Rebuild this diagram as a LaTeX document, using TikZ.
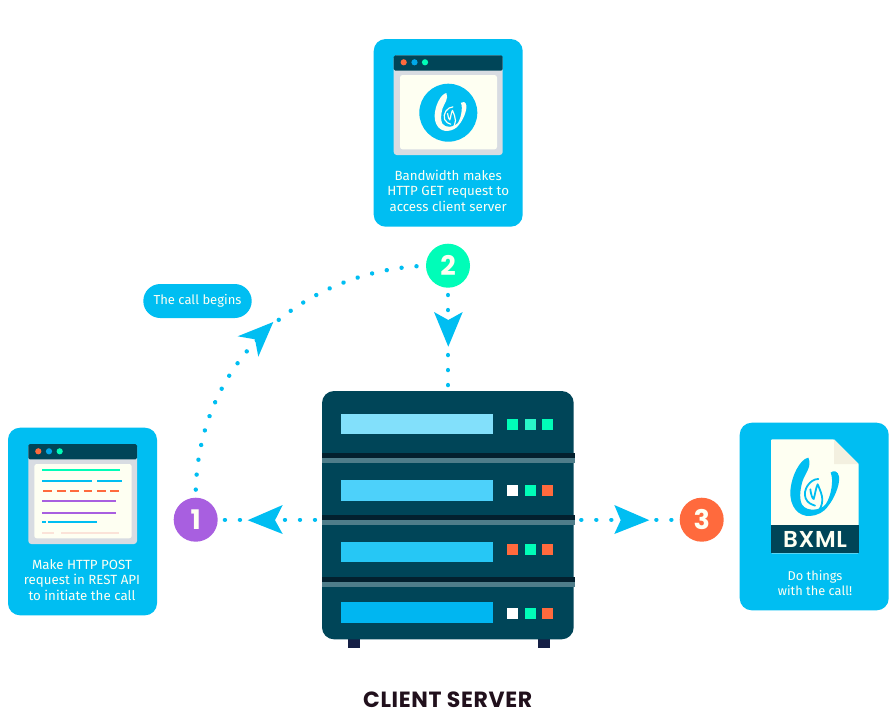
\documentclass[tikz,border=0pt]{standalone}
\usepackage{fontspec}
\setmainfont{Fira Sans}
\newfontfamily\labelfont{Poppins}
\newfontfamily\serverfont[LetterSpace=3]{Poppins}
\newfontfamily\bxfont[LetterSpace=3]{Poppins SemiBold}
\usetikzlibrary{calc}
\definecolor{bwblue}{HTML}{00BEF2}
\definecolor{bwdark}{HTML}{004558}
\definecolor{bwgreen}{HTML}{00FDB8}
\definecolor{bwgreenlt}{HTML}{2AF5C8}
\definecolor{bworange}{HTML}{FF6A3D}
\definecolor{bwpurple}{HTML}{A85FE0}
\definecolor{bwcream}{HTML}{FEFFF2}
\definecolor{bwfold}{HTML}{F3F0E0}
\definecolor{bwgrey}{HTML}{D8DCE2}
\definecolor{bwpink}{HTML}{FBE3D8}
\definecolor{bwnavy}{HTML}{151F45}
\definecolor{stripedark}{HTML}{03202E}
\definecolor{stripelight}{HTML}{4F7D8A}
\definecolor{labelink}{HTML}{21101C}
\definecolor{barA}{HTML}{82E0FB}
\definecolor{barB}{HTML}{4DD1FA}
\definecolor{barC}{HTML}{26C7F5}
\definecolor{barD}{HTML}{00B6F1}
\definecolor{dotblue}{HTML}{00A8E8}
\tikzset{
  box/.style={draw=none,inner sep=0pt,outer sep=0pt,rectangle},
  card/.style={box,fill=bwblue,rounded corners=12pt},
  cardtext/.style={text=bwcream,font=\fontsize{13.3}{15.4}\selectfont,align=center,inner sep=0pt},
  badge/.style={circle,minimum size=44pt,inner sep=0pt,outer sep=0pt,text=bwcream,font=\fontsize{27}{27}\labelfont\bfseries},
  dotline/.style={draw=bwblue,line width=4.4pt,line cap=round,dash pattern=on 0.01pt off 15pt},
  head/.style={fill=bwblue,draw=none},
  tline/.style={line width=2.2pt},
}
\newcommand{\bwlogo}[4]{%
\begin{scope}[shift={(#1,#2)},scale=#3/3]
\begin{scope}[shift={(-150,-157)}]
\fill[#4] (130,68) .. controls (105,72) and (78,125) .. (76,170)
 .. controls (74,215) and (100,245) .. (135,243)
 .. controls (155,242) and (178,232) .. (190,212)
 .. controls (205,195) and (226,150) .. (222,125)
 .. controls (220,108) and (205,105) .. (197,113)
 .. controls (207,135) and (198,185) .. (182,208)
 .. controls (165,228) and (125,230) .. (112,210)
 .. controls (102,195) and (105,165) .. (112,140)
 .. controls (120,115) and (142,95) .. (130,68) -- cycle;
\draw[#4,line width=#3*1.8pt,line cap=round,line join=round]
 (160,132) .. controls (135,132) and (112,165) .. (122,190)
 .. controls (128,205) and (140,208) .. (150,212);
\draw[#4,line width=#3*1.8pt,line cap=round,line join=round]
 (136,163) .. controls (138,180) and (142,190) .. (146,192)
 .. controls (150,180) and (152,160) .. (158,148)
 .. controls (165,165) and (172,180) .. (172,195)
 .. controls (172,210) and (165,222) .. (158,232);
\end{scope}
\end{scope}}
\newcommand{\winframe}[9]{%
\fill[bwgrey,rounded corners=3pt] (#1,#2) rectangle (#3,#4);
\fill[bwdark,rounded corners=1.5pt] (#1,#2) rectangle (#3,#5);
\fill[bwcream,rounded corners=2.5pt] (#6,#7) rectangle (#8,#9);}
\begin{document}
\begin{tikzpicture}[x=1pt,y=-1pt]
\useasboundingbox[fill=white] (0,0) rectangle (893,713);

% cards
\node[card,minimum width=149pt,minimum height=187.7pt] (cardtop) at (448.2,132.85) {};
\node[card,minimum width=149pt,minimum height=187.6pt] (cardleft) at (82.5,521.5) {};
\node[card,minimum width=149pt,minimum height=187.6pt] (cardright) at (814.2,516.5) {};

% badges and server
\node[badge,fill=bwpurple] (one) at (195.7,519.7) {1};
\node[badge,fill=bwgreen] (two) at (448,265.7) {2};
\node[badge,fill=bworange] (three) at (701.7,519.7) {3};
\fill[bwnavy] (348.3,636) rectangle (360.3,648.3);
\fill[bwnavy] (537.7,636) rectangle (549.7,648.3);
\node[box,fill=bwdark,rounded corners=12pt,minimum width=251.7pt,minimum height=248.3pt] (server) at (447.85,515.15) {};

% connectors
\draw[dotline,dash phase=8pt] (server.west |- one.east) -- (one.east);
\draw[dotline,dash phase=7.4pt] (server.east |- three.west) -- (three.west);
\draw[dotline,dash phase=7.7pt] (two.south) -- (two.south |- server.north);
\draw[dotline,dash phase=5.5pt] (two.west) .. controls (305,270) and (195,360) .. (one.north);
\fill[head] (247.7,520.2) -- (282.7,505) -- (275,520.2) -- (282.7,534) -- cycle;
\fill[head] (649.3,520.2) -- (614.3,505) -- (620.7,520.2) -- (614.3,534) -- cycle;
\fill[head] (448.3,346.7) -- (434,312) -- (448.3,320) -- (462.7,312) -- cycle;
\fill[head] (273.3,322) -- (237.7,336.3) -- (255,339.3) -- (258.3,356.7) -- cycle;

% server details
\foreach \yy in {453,515,577.3}{
  \fill[stripedark] (322,\yy) rectangle (575,\yy+5);
  \fill[stripelight] (322,\yy+5) rectangle (575,\yy+10);
}
\fill[barA] (341,413.7) rectangle (493,434.3);
\fill[barB] (341,480.3) rectangle (493,501);
\fill[barC] (341,541.7) rectangle (493,562.3);
\fill[barD] (341,602.3) rectangle (493,623);
\foreach \yc/\ca/\cb/\cc in {424.7/bwgreen/bwgreenlt/bwgreen,490.3/white/bwgreen/bworange,549.7/bworange/bwgreen/bworange,613.3/white/bwgreen/bworange}{
  \fill[\ca] (507.3,\yc-5.5) rectangle (518.3,\yc+5.5);
  \fill[\cb] (525,\yc-5.5) rectangle (535.7,\yc+5.5);
  \fill[\cc] (542,\yc-5.5) rectangle (553,\yc+5.5);
}
\node[font=\fontsize{22}{22}\serverfont\bfseries,text=labelink,inner sep=0pt] (serverlabel) at (447.7,699.3) {CLIENT SERVER};

% top window
\winframe{393.7}{55.3}{502.7}{155}{70.7}{400}{75}{497}{149.3}
\fill[bworange] (403.7,62.3) circle (3.1);
\fill[dotblue] (414.5,62.3) circle (3.1);
\fill[bwgreen] (425,62.3) circle (3.1);
\fill[bwblue] (448.3,112.7) circle (29);
\bwlogo{450.7}{112.3}{0.65}{bwcream}
\node[cardtext] (toptext) at (448.2,190.8) {Bandwidth makes\\HTTP GET request to\\access client server};

% left window
\winframe{28.3}{444}{137}{544}{459.3}{34.3}{464}{131.7}{538.3}
\fill[bworange] (38.3,451.3) circle (3.1);
\fill[dotblue] (49,451.3) circle (3.1);
\fill[bwgreen] (59.7,451.3) circle (3.1);
\draw[tline,bwgreen] (42,470.3) -- (120.3,470.3);
\draw[tline,bwblue] (42,481) -- (91.7,481) (97,481) -- (122,481);
\draw[tline,bworange,dash pattern=on 8.8pt off 4.6pt] (43.3,491.3) -- (120,491.3);
\draw[tline,bwpurple] (42,501.3) -- (116.3,501.3);
\draw[tline,bwpurple] (42,512.7) -- (116.3,512.7);
\draw[tline,bwblue] (42,522.3) -- (45.7,522.3) (47.7,522.3) -- (97,522.3);
\draw[tline,bwpink] (42,532.7) -- (54,532.7) (61.3,532.7) -- (119,532.7);
\node[cardtext] (lefttext) at (82,580) {Make HTTP POST\\request in REST API\\to initiate the call};

% BXML document
\fill[bwcream,rounded corners=1pt] (771,439.3) -- (834,439.3) -- (858.7,464) -- (858.7,553.3) -- (771,553.3) -- cycle;
\fill[bwfold] (834,439.3) -- (858.7,464) -- (834,464) -- cycle;
\fill[bwdark] (771,525) rectangle (858.7,553.3);
\bwlogo{815}{487.3}{1}{bwblue}
\node[font=\fontsize{23}{23}\bxfont,text=bwcream,inner sep=0pt] (bxml) at (815,539.7) {BXML};
\node[cardtext,font=\fontsize{12.8}{15.2}\selectfont] (righttext) at (815,583.2) {Do things\\with the call!};

% pill
\node[box,fill=bwblue,rounded corners=17pt,minimum width=108.4pt,minimum height=34pt,text=bwcream,font=\fontsize{13}{15.4}\selectfont] (pill) at (197.5,301) {The call begins};
\end{tikzpicture}
\end{document}
